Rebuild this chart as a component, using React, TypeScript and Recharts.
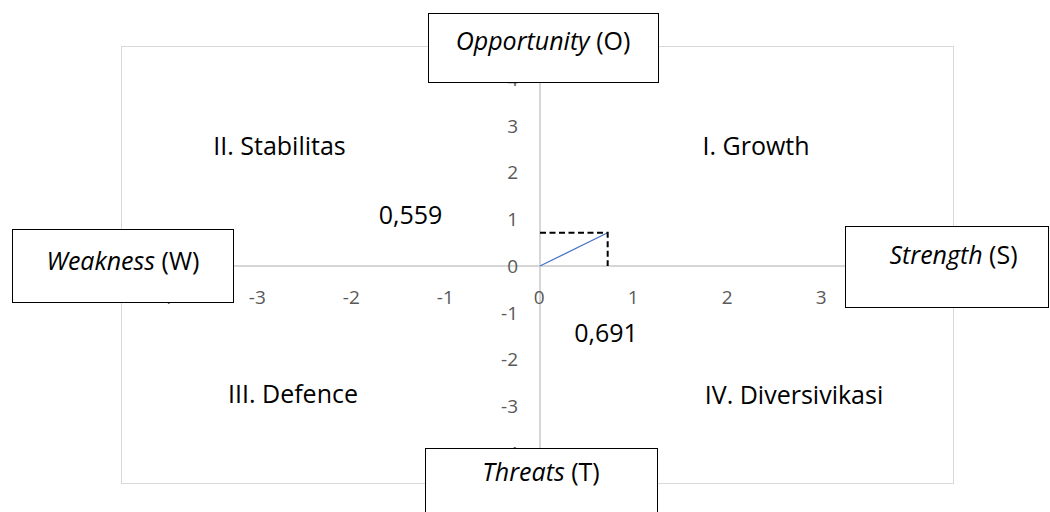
import React from 'react';
import { ScatterChart, Scatter, XAxis, YAxis, ReferenceLine } from 'recharts';

// ---- data ----
const axisTicks = [-4, -3, -2, -1, 0, 1, 2, 3, 4];
const vectorX = [0, 0.72];
const vectorY = [0, 0.71];
const guideX = [0, 0.72, 0.72];
const guideY = [0.71, 0.71, 0];
const quadrantLabels = ['I. Growth', 'II. Stabilitas', 'III. Defence', 'IV. Diversivikasi'];
const valueLabels = ['0,559', '0,691'];
const axisNamesItalic = ['Opportunity', 'Threats', 'Weakness', 'Strength'];
const axisNamesCode = ['(O)', '(T)', '(W)', '(S)'];

const vectorData = vectorX.map((x, i) => ({ x, y: vectorY[i] }));
const guideData = guideX.map((x, i) => ({ x, y: guideY[i] }));

// ---- layout ----
const W = 1050;
const H = 512;
const AXIS_SIZE = 20;
const M = { top: 79, right: 134, bottom: 59 - AXIS_SIZE, left: 164 - AXIS_SIZE };
const PLOT_LEFT = 164;
const PLOT_TOP = 79;
const PLOT_W = W - 164 - 134;
const PLOT_H = H - 79 - 59;
const ZERO_X = PLOT_LEFT + PLOT_W / 2;
const ZERO_Y = PLOT_TOP + PLOT_H / 2;
const FONT = "'Open Sans', 'Liberation Sans', sans-serif";

const renderXTick = (props: any) => {
  const { x, payload } = props;
  return (
    <text x={x - 0.7} y={ZERO_Y + 37.5} textAnchor="middle" fill="#595959" fontSize={19} fontFamily={FONT}>
      {String(payload.value)}
    </text>
  );
};

const renderYTick = (props: any) => {
  const { y, payload } = props;
  return (
    <text x={ZERO_X - 22} y={y + 6.8} textAnchor="end" fill="#595959" fontSize={19} fontFamily={FONT}>
      {String(payload.value)}
    </text>
  );
};

const NoDot = () => <g />;

const boxes = [
  { x: 428, y: 13, w: 230, h: 69, cx: 543, by: 50 },
  { x: 425, y: 448, w: 232, h: 80, cx: 541, by: 481 },
  { x: 12, y: 229, w: 221, h: 73, cx: 123, by: 270 },
  { x: 845, y: 226, w: 203, h: 81, cx: 953.5, by: 264 },
];

const quadPos = [
  { cx: 756, by: 155 },
  { cx: 279.5, by: 155 },
  { cx: 293, by: 403 },
  { cx: 794, by: 404 },
];
const valuePos = [
  { cx: 410.5, by: 224 },
  { cx: 606, by: 341.5 },
];

export default function App() {
  return (
    <div style={{ position: 'absolute', left: 0, top: 0, width: W, height: H, background: '#fff' }}>
      <div
        style={{
          position: 'absolute',
          left: 121,
          top: 46,
          width: 833,
          height: 438,
          boxSizing: 'border-box',
          border: '1.5px solid #d9d9d9',
        }}
      />
      <div style={{ position: 'absolute', left: 0, top: 0 }}>
        <ScatterChart width={W} height={H} margin={M}>
          <XAxis
            type="number"
            dataKey="x"
            domain={[-4, 4]}
            ticks={axisTicks}
            allowDataOverflow
            height={AXIS_SIZE}
            axisLine={false}
            tickLine={false}
            tick={renderXTick}
            interval={0}
          />
          <YAxis
            type="number"
            dataKey="y"
            domain={[-4, 4]}
            ticks={axisTicks}
            allowDataOverflow
            width={AXIS_SIZE}
            axisLine={false}
            tickLine={false}
            tick={renderYTick}
            interval={0}
          />
          <ReferenceLine x={0} stroke="#c8c8c8" strokeWidth={1.5} />
          <ReferenceLine y={0} stroke="#c8c8c8" strokeWidth={1.5} />
          <Scatter
            data={vectorData}
            line={{ stroke: '#4472C4', strokeWidth: 1.25 }}
            shape={<NoDot />}
            isAnimationActive={false}
            legendType="none"
          />
          <Scatter
            data={guideData}
            line={{ stroke: '#000', strokeWidth: 2, strokeDasharray: '6 3.5' }}
            shape={<NoDot />}
            isAnimationActive={false}
            legendType="none"
          />
        </ScatterChart>
      </div>
      <svg
        width={W}
        height={H}
        style={{ position: 'absolute', left: 0, top: 0, pointerEvents: 'none' }}
        fontFamily={FONT}
      >
        {quadrantLabels.map((t, i) => (
          <text key={t} x={quadPos[i].cx} y={quadPos[i].by} textAnchor="middle" fontSize={25} fill="#000">
            {t}
          </text>
        ))}
        {valueLabels.map((t, i) => (
          <text key={t} x={valuePos[i].cx} y={valuePos[i].by} textAnchor="middle" fontSize={25} fill="#000">
            {t}
          </text>
        ))}
        {boxes.map((b, i) => (
          <g key={i}>
            <rect x={b.x + 0.5} y={b.y + 0.5} width={b.w} height={b.h} fill="#fff" stroke="#000" strokeWidth={1} />
            <text x={b.cx} y={b.by} textAnchor="middle" fontSize={25} fill="#000">
              <tspan fontStyle="italic">{axisNamesItalic[i]}</tspan>
              <tspan>{' ' + axisNamesCode[i]}</tspan>
            </text>
          </g>
        ))}
      </svg>
    </div>
  );
}
